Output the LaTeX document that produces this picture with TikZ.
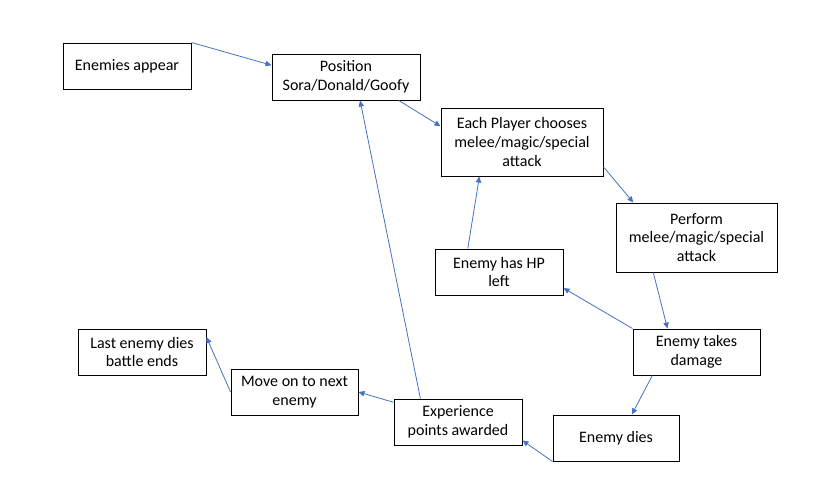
\documentclass[tikz,border=0pt]{standalone}
\usepackage{fontspec}
\setmainfont{Carlito}
\usepackage{tikz}
\usetikzlibrary{arrows.meta, positioning}
\definecolor{officeblue}{HTML}{4472C4}
\tikzstyle{box} = [rectangle, draw=black, line width=0.75pt, fill=white,
 align=center, inner sep=0pt, font=\fontsize{12}{14.2}\selectfont,
 minimum width=96pt, minimum height=34.5pt]
\tikzstyle{arrow} = [draw=officeblue, line width=0.6pt,
 -{Triangle[length=4.5pt, width=4pt]}, shorten >=0pt]

\begin{document}
\begin{tikzpicture}[x=0.75pt, y=-0.75pt]
	\useasboundingbox (0,0) rectangle (820,487);
	% Kaesten
	\node[box] (appear) at (127,66) {Enemies appear};
	\node[box, minimum width=111pt] (position) at (346,77) {Position\\Sora/Donald/Goofy};
	\node[box, minimum width=121.5pt, minimum height=51pt] (choose) at (522,142) {Each Player chooses\\melee/magic/special\\attack};
	\node[box, minimum width=120.75pt, minimum height=51.75pt] (perform) at (696.5,237.5) {Perform\\melee/magic/special\\attack};
	\node[box] (hpleft) at (499,272) {Enemy has HP\\left};
	\node[box, minimum width=95.25pt] (damage) at (696.5,352) {Enemy takes\\damage};
	\node[box, minimum width=94.5pt] (dies) at (616,438) {Enemy dies};
	\node[box] (exp) at (458,422) {Experience\\points awarded};
	\node[box, minimum width=95.25pt] (moveon) at (294.5,392) {Move on to next\\enemy};
	\node[box] (last) at (142,352) {Last enemy dies\\battle ends};
	% Pfeile
	\draw[arrow] (appear.north east) -- (position.171.5); % Start
	\draw[arrow] (position.336.5) -- (choose.169.5); % Aufstellung
	\draw[arrow] (choose.343.5) -- (perform.151.9); % Angriff waehlen
	\draw[arrow] (perform.219.1) -- (damage.141.1); % Schaden
	\draw[arrow] (damage.north west) -- (hpleft.346.8); % Gegner lebt
	\draw[arrow] (hpleft.143.4) -- (choose.219.7); % naechste Runde
	\draw[arrow] (damage.208.4) -- (dies.56.9); % Gegner stirbt
	\draw[arrow] (dies.south west) -- (exp.344.3); % Erfahrung
	\draw[arrow] (exp.148.8) -- (position.301.3); % zurueck
	\draw[arrow] (exp.163.5) -- (moveon.east); % weiter
	\draw[arrow] (moveon.west) -- (last.13.2); % Ende
\end{tikzpicture}
\end{document}
